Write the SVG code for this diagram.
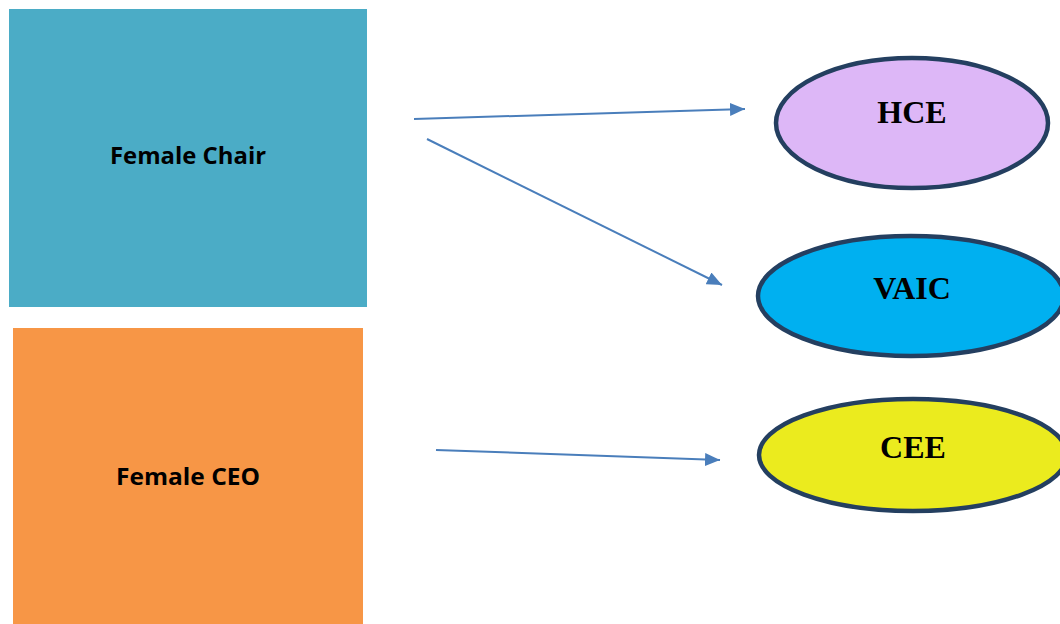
<svg xmlns="http://www.w3.org/2000/svg" width="1060" height="624" viewBox="0 0 1060 624">
<style>
.lbl{font-family:"Open Sans","Liberation Sans",sans-serif;font-weight:bold;font-size:23px;fill:#000;text-anchor:middle}
.ell{stroke:#243F60;stroke-width:4.5}
.ett{font-family:"Liberation Serif","Times New Roman",serif;font-weight:bold;font-size:32px;fill:#000;text-anchor:middle}
.conn{stroke:#4A7EBB;stroke-width:2;fill:none}
</style>
<defs>
<marker id="ah" viewBox="0 0 15 13" refX="15" refY="6.5" markerWidth="15" markerHeight="13" orient="auto" markerUnits="userSpaceOnUse">
<path d="M0,0 L15,6.5 L0,13 Z" fill="#4A7EBB"/>
</marker>
</defs>
<rect width="1060" height="624" fill="#fff"/>
<g id="female-chair">
<rect x="9" y="9" width="358" height="298" fill="#4BACC6"/>
<text class="lbl" x="188" y="164" textLength="156" lengthAdjust="spacingAndGlyphs">Female Chair</text>
</g>
<g id="female-ceo">
<rect x="13" y="328" width="350" height="300" fill="#F79646"/>
<text class="lbl" x="188" y="485" textLength="144" lengthAdjust="spacingAndGlyphs">Female CEO</text>
</g>
<g id="hce">
<ellipse class="ell" cx="912" cy="123" rx="136" ry="65" fill="#DDB7F7"/>
<text class="ett" x="912" y="123">HCE</text>
</g>
<g id="vaic">
<ellipse class="ell" cx="911" cy="296" rx="153" ry="60" fill="#00B0F0"/>
<text class="ett" x="912" y="299">VAIC</text>
</g>
<g id="cee">
<ellipse class="ell" cx="913" cy="455" rx="154" ry="56" fill="#EBEB1E"/>
<text class="ett" x="913" y="458">CEE</text>
</g>
<g id="connectors">
<line class="conn" x1="414" y1="119" x2="745" y2="109" marker-end="url(#ah)"/>
<line class="conn" x1="427" y1="139" x2="722" y2="285" marker-end="url(#ah)"/>
<line class="conn" x1="436" y1="450" x2="720" y2="460" marker-end="url(#ah)"/>
</g>
</svg>
